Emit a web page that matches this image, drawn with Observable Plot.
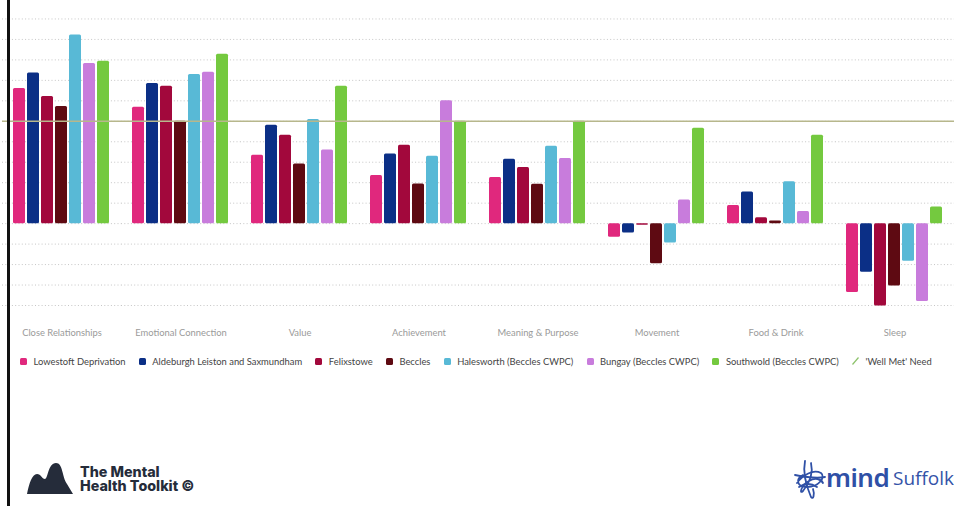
<!DOCTYPE html>
<html>
<head>
<meta charset="utf-8">
<script src="https://cdn.jsdelivr.net/npm/d3@7"></script>
<script src="https://cdn.jsdelivr.net/npm/@observablehq/plot@0.6"></script>
<style>
  html, body { margin: 0; padding: 0; background: #fff; width: 954px; height: 506px; overflow: hidden; }
  #wrap { position: relative; width: 954px; height: 506px; }
  #chart { position: absolute; left: 0; top: 0; }
  #border { position: absolute; left: 7px; top: 0; width: 3px; height: 506px; background: #111; }
  #legend { position: absolute; left: 20px; top: 354px; display: flex; align-items: center; font-family: Lato, sans-serif; font-size: 9.4px; color: #444; white-space: nowrap; }
  .item { display: flex; align-items: center; margin-right: 13.2px; height: 14px; }
  .sw { width: 7px; height: 7px; border-radius: 1.5px; margin-right: 6.5px; }
  .slash { width: 7px; height: 8px; margin-right: 6.5px; }
  #toolkit { position: absolute; left: 26px; top: 460px; }
  .tk { position: absolute; left: 80px; font-family: Inter, sans-serif; font-weight: 800; font-size: 14.3px; line-height: 13px; height: 13px; color: #252c3a; white-space: nowrap; }
  #tk1 { top: 465px; }
  #tk2 { top: 479px; }
  #mindIcon { position: absolute; left: 791px; top: 457px; }
  #mindWord { position: absolute; left: 826px; top: 464px; font-family: "Noto Sans", sans-serif; font-weight: 600; font-size: 26px; line-height: 26px; color: #2f50a6; letter-spacing: -0.5px; }
  #suffolk { position: absolute; left: 893px; top: 468px; font-family: "Open Sans", sans-serif; font-size: 19px; line-height: 20px; color: #3453a8; }
</style>
</head>
<body>
<div id="wrap">
  <div id="chart"></div>
  <div id="legend"></div>
  <svg id="toolkit" width="50" height="36" viewBox="0 0 50 36">
    <path d="M1,34 C3,24 6,14 11,14 C15,14 16,19 19,19 C22,19 22,3 30,3 C37,3 36,17 41,24 L47,34 Z" fill="#252c3a"/>
  </svg>
  <div class="tk" id="tk1">The Mental</div>
  <div class="tk" id="tk2">Health Toolkit ©</div>
  <svg id="mindIcon" width="36" height="44" viewBox="0 0 36 44" fill="none" stroke="#2f50a6" stroke-width="1.8" stroke-linecap="round">
    <path d="M6,26 C12,18 22,12 30,16 C35,20 28,30 16,30 C6,30 4,22 12,18"/>
    <path d="M14,4 C12,14 14,26 20,40 C22,43 24,38 22,32"/>
    <path d="M20,6 C22,14 20,24 12,34 C8,38 10,28 18,24 C24,20 30,22 32,26"/>
    <path d="M4,18 C14,20 24,22 34,20"/>
    <path d="M8,30 C14,26 20,26 26,30"/>
  </svg>
  <div id="mindWord">mind</div>
  <div id="suffolk">Suffolk</div>
  <div id="border"></div>
</div>
<script>
const categories = ["Close Relationships", "Emotional Connection", "Value", "Achievement", "Meaning & Purpose", "Movement", "Food & Drink", "Sleep"];
const seriesNames = ["Lowestoft Deprivation", "Aldeburgh Leiston and Saxmundham", "Felixstowe", "Beccles", "Halesworth (Beccles CWPC)", "Bungay (Beccles CWPC)", "Southwold (Beccles CWPC)"];
const seriesColors = ["#e0287d", "#0b2f86", "#a2083c", "#5e0a12", "#58b9d6", "#c87cdc", "#74c93f"];

const lowestoft  = [6.60, 5.69, 3.34, 2.35, 2.26, -0.67, 0.89, -3.36];
const aldeburgh  = [7.36, 6.85, 4.81, 3.40, 3.14, -0.46, 1.55, -2.37];
const felixstowe = [6.21, 6.71, 4.32, 3.83, 2.74, -0.08, 0.29, -4.03];
const beccles    = [5.72, 5.00, 2.91, 1.94, 1.92, -1.96, 0.13, -3.05];
const halesworth = [9.22, 7.29, 5.09, 3.29, 3.78, -0.95, 2.05, -1.84];
const bungay     = [7.82, 7.40, 3.60, 6.00, 3.18, 1.15, 0.59, -3.81];
const southwold  = [7.94, 8.28, 6.71, 5.00, 5.00, 4.66, 4.32, 0.81];

const wellMetNeed = 5;
const wellMetLabel = "'Well Met' Need";
const gridTicks = [-4, -3, -2, -1, 0, 1, 2, 3, 4, 5, 6, 7, 8, 9, 10, 11];

const seriesValues = [lowestoft, aldeburgh, felixstowe, beccles, halesworth, bungay, southwold];
const data = [];
seriesNames.forEach((s, si) => {
  categories.forEach((c, ci) => {
    data.push({category: c, series: s, value: seriesValues[si][ci]});
  });
});

const chart = Plot.plot({
  width: 954,
  height: 345,
  marginLeft: 2,
  marginRight: 0,
  marginTop: 0,
  marginBottom: 40,
  style: {background: "transparent", fontFamily: "Lato, sans-serif", fontSize: "9.4px", color: "#9a9a9a", overflow: "visible"},
  fx: {domain: categories, padding: 0, axis: "bottom", tickSize: 0, tickPadding: 24, label: null},
  x: {domain: seriesNames, paddingInner: 0.12, paddingOuter: 0.8, axis: null},
  y: {domain: [-4, 11], range: [305, -2], axis: null},
  color: {domain: seriesNames, range: seriesColors},
  marks: [
    Plot.ruleY(gridTicks, {stroke: "#c6c6c6", strokeWidth: 1, strokeDasharray: "1,2.3"}),
    Plot.barY(data, {fx: "category", x: "series", y: "value", fill: "series", rx: 1.5}),
    Plot.ruleY([wellMetNeed], {stroke: "#b7b78c", strokeWidth: 1.5})
  ]
});
document.getElementById("chart").appendChild(chart);

const legend = document.getElementById("legend");
seriesNames.forEach((s, i) => {
  const item = document.createElement("div");
  item.className = "item";
  const sw = document.createElement("div");
  sw.className = "sw";
  sw.style.background = seriesColors[i];
  const t = document.createElement("span");
  t.textContent = s;
  item.appendChild(sw);
  item.appendChild(t);
  legend.appendChild(item);
});
const wm = document.createElement("div");
wm.className = "item";
wm.innerHTML = '<svg class="slash" viewBox="0 0 7 8"><line x1="0.5" y1="7.5" x2="6.5" y2="0.5" stroke="#8cc26a" stroke-width="1.2"/></svg>';
const wmt = document.createElement("span");
wmt.textContent = wellMetLabel;
wm.appendChild(wmt);
legend.appendChild(wm);
</script>
</body>
</html>
